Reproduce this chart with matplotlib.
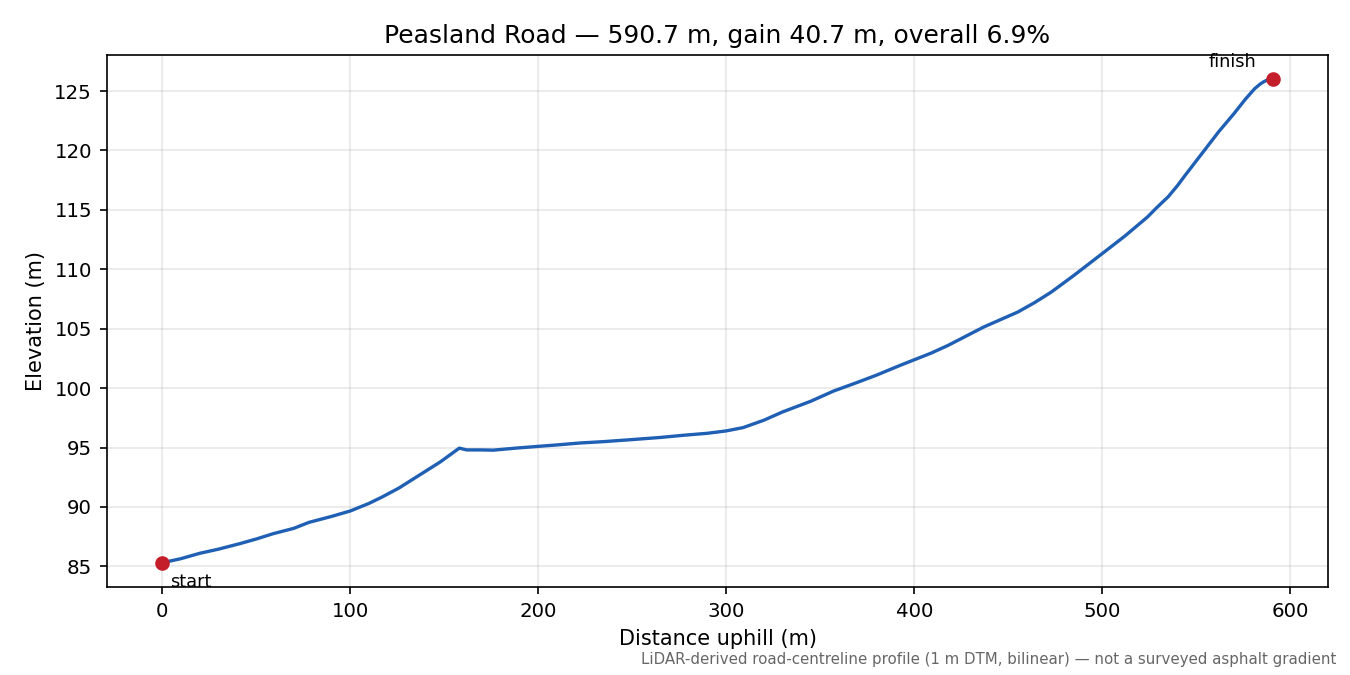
import matplotlib
matplotlib.use("Agg")
import matplotlib.pyplot as plt

distance_m = [0, 10, 20, 30, 41, 50, 59, 70, 78, 90, 100, 110, 117, 126, 135, 148, 158, 162,
              170, 176, 188, 200, 210, 222, 235, 250, 265, 277, 290, 300, 309, 320, 330, 345,
              357, 370, 380, 393, 409, 418, 437, 455, 464, 473, 485, 500, 512, 524, 529, 535,
              540, 544, 553, 562, 570, 576, 581, 584, 586, 588, 590.7]
elevation_m = [85.3, 85.65, 86.1, 86.45, 86.9, 87.3, 87.75, 88.2, 88.7, 89.2, 89.66, 90.3, 90.84,
               91.6, 92.5, 93.8, 94.95, 94.8, 94.8, 94.78, 94.95, 95.1, 95.22, 95.38, 95.5, 95.67,
               95.85, 96.03, 96.2, 96.4, 96.68, 97.3, 98.0, 98.9, 99.75, 100.5, 101.1, 101.95,
               102.95, 103.6, 105.15, 106.4, 107.2, 108.1, 109.5, 111.33, 112.8, 114.4, 115.2, 116.1,
               117.05, 117.9, 119.75, 121.6, 123.1, 124.3, 125.2, 125.6, 125.8, 125.95, 126.0]

title = "Peasland Road \u2014 590.7 m, gain 40.7 m, overall 6.9%"
note = "LiDAR-derived road-centreline profile (1 m DTM, bilinear) \u2014 not a surveyed asphalt gradient"

fig = plt.figure(figsize=(9, 4.5), dpi=150)
ax = fig.add_subplot(111)
fig.subplots_adjust(left=0.079, right=0.984, top=0.9185, bottom=0.1304)

ax.plot(distance_m, elevation_m, color="#1f5fb4", lw=1.6, zorder=2)
ax.plot([distance_m[0], distance_m[-1]], [elevation_m[0], elevation_m[-1]], "o",
        color="#c41e2a", ms=6, zorder=3)

ax.annotate("start", (distance_m[0], elevation_m[0]), xytext=(4, -5),
            textcoords="offset points", ha="left", va="top", fontsize=8.5)
ax.annotate("finish", (distance_m[-1], elevation_m[-1]), xytext=(-8, 4),
            textcoords="offset points", ha="right", va="bottom", fontsize=8.5)

ax.set_title(title, fontsize=12)
ax.set_xlabel("Distance uphill (m)", fontsize=10)
ax.set_ylabel("Elevation (m)", fontsize=10)
ax.tick_params(labelsize=9.5)
ax.grid(True, alpha=0.3)
fig.text(0.99, 0.012, note, ha="right", va="bottom", fontsize=7.2, color="#666666")

fig.savefig("out.png", dpi=150)
